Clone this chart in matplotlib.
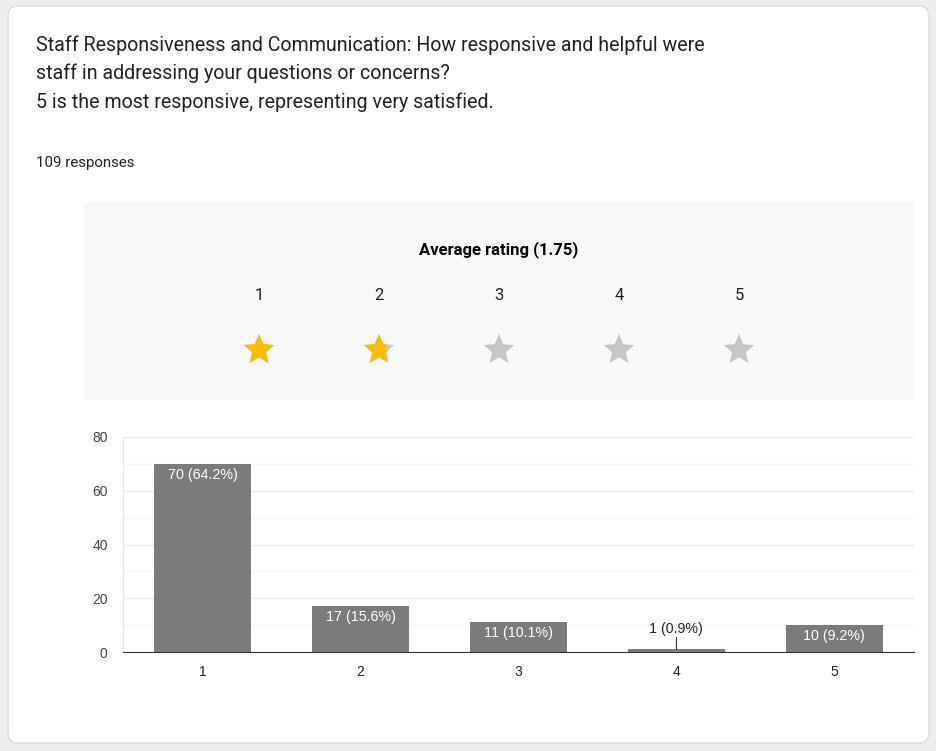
import numpy as np
import matplotlib.pyplot as plt
from matplotlib.patches import FancyBboxPatch, Polygon

# Daten aus dem Formular
title_lines = [
    "Staff Responsiveness and Communication: How responsive and helpful were",
    "staff in addressing your questions or concerns?",
    "5 is the most responsive, representing very satisfied.",
]
responses = 109
ratings = [1, 2, 3, 4, 5]
counts = [70, 17, 11, 1, 10]
percents = [64.2, 15.6, 10.1, 0.9, 9.2]
average = 1.75

W, H = 937, 751
fig = plt.figure(figsize=(W / 100, H / 100), dpi=100)
fig.patch.set_facecolor("#ebebeb")

# Hintergrund in Pixelkoordinaten
bg = fig.add_axes([0, 0, 1, 1])
bg.set_xlim(0, W)
bg.set_ylim(H, 0)
bg.axis("off")

card = FancyBboxPatch((8, 6), 921, 737, boxstyle="round,pad=0,rounding_size=10",
                      fc="white", ec="#dadce0", lw=1)
bg.add_patch(card)
panel = FancyBboxPatch((84, 202), 830, 198, boxstyle="round,pad=0,rounding_size=4",
                       fc="#f8f8f8", ec="none")
bg.add_patch(panel)

for i, line in enumerate(title_lines):
    bg.text(36, 45 + i * 28.5, line, fontsize=14.1, family="Roboto", color="#202124",
            va="center", ha="left")
bg.text(36, 163.5, f"{responses} responses", fontsize=10.8, family="Roboto",
        color="#202124", va="center")

bg.text(499, 249.5, f"Average rating ({average})", fontsize=12, family="Roboto",
        weight="bold", color="#000000", ha="center", va="center")


def star(cx, cy, r_out=16, r_in=7.2):
    pts = []
    for k in range(10):
        ang = np.pi / 2 + k * np.pi / 5
        r = r_out if k % 2 == 0 else r_in
        pts.append((cx + r * np.cos(ang), cy - r * np.sin(ang)))
    return pts


def clip_left(pts, xc):
    # Polygon auf x <= xc beschneiden (Sutherland-Hodgman, eine Kante)
    out = []
    n = len(pts)
    for k in range(n):
        p, q = pts[k], pts[(k + 1) % n]
        p_in, q_in = p[0] <= xc, q[0] <= xc
        if p_in:
            out.append(p)
        if p_in != q_in:
            t = (xc - p[0]) / (q[0] - p[0])
            out.append((xc, p[1] + t * (q[1] - p[1])))
    return out


for i, r in enumerate(ratings):
    cx = 259 + i * 120
    bg.text(cx, 296, str(r), fontsize=12, family="Roboto", color="#202124",
            ha="center", va="center")
    pts = star(cx, 350)
    bg.add_patch(Polygon(pts, closed=True, fc="#c6c6c6", ec="none"))
    frac = min(max(average - i, 0), 1)
    if frac >= 1:
        bg.add_patch(Polygon(pts, closed=True, fc="#fbbc04", ec="none"))
    elif frac > 0:
        xc = cx - 15.3 + 30.6 * frac
        bg.add_patch(Polygon(clip_left(pts, xc), closed=True, fc="#fbbc04", ec="none"))

# Balkendiagramm
ax = fig.add_axes([123 / W, (H - 652) / H, (914 - 123) / W, (652 - 437) / H])
ax.set_facecolor("none")
ax.bar(ratings, counts, width=0.615, color="#7b7b7b", zorder=3)
ax.set_xlim(0.495, 5.505)
ax.set_ylim(0, 80)
ax.set_yticks([0, 20, 40, 60, 80])
ax.set_yticks([10, 30, 50, 70], minor=True)
ax.set_xticks(ratings)
ax.grid(axis="y", which="major", color="#ebebeb", lw=1, zorder=0)
ax.grid(axis="y", which="minor", color="#f5f5f5", lw=1, zorder=0)
for s in ["top", "right"]:
    ax.spines[s].set_visible(False)
ax.spines["left"].set_color("#e6e6e6")
ax.spines["bottom"].set_color("#333333")
ax.spines["bottom"].set_zorder(4)
ax.tick_params(which="both", length=0)
ax.tick_params(axis="y", pad=11, labelsize=10, labelcolor="#444444")
ax.tick_params(axis="x", pad=9, labelsize=10, labelcolor="#222222")
for lab in ax.get_xticklabels() + ax.get_yticklabels():
    lab.set_family("Liberation Sans")

for r, c, p in zip(ratings, counts, percents):
    txt = f"{c} ({p}%)"
    if c >= 5:
        ax.text(r, c - 1.5, txt, ha="center", va="top", color="white",
                fontsize=10.3, family="Liberation Sans", zorder=5)
    else:
        ax.plot([r, r], [c, c + 4.6], color="#333333", lw=0.8, zorder=5)
        ax.text(r, c + 5.0, txt, ha="center", va="bottom", color="#222222",
                fontsize=10.3, family="Liberation Sans", zorder=5)

fig.savefig("out.png", dpi=100, facecolor=fig.get_facecolor())
